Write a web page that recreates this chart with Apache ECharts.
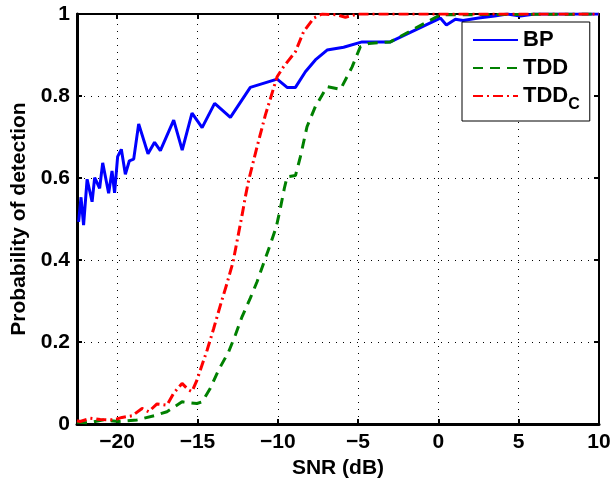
<!DOCTYPE html>
<html>
<head>
<meta charset="utf-8">
<script src="https://cdn.jsdelivr.net/npm/echarts@6/dist/echarts.min.js"></script>
<style>
  html, body { margin: 0; padding: 0; background: #fff; }
  #main { width: 611px; height: 479px; }
</style>
</head>
<body>
<div id="main"></div>
<script>
// data
const seriesNames = ['BP', 'TDD', 'TDD_C'];
const xTicks = [-20, -15, -10, -5, 0, 5, 10];

const bpX = [-22.4, -22.25, -22.09, -21.87, -21.56, -21.4, -21.09, -20.9, -20.53, -20.32, -20.16, -19.97, -19.74, -19.49, -19.24, -18.97, -18.66, -18.08, -17.67, -17.31, -16.48, -15.95, -15.34, -14.71, -13.93, -12.95, -11.71, -10.04, -9.42, -8.9, -8.28, -7.66, -6.93, -5.9, -4.75, -2.99, 0.12, 0.5, 1.06, 1.54, 2.5, 3.5, 4.28, 5.1, 6, 10];
const bpY = [0.493, 0.553, 0.485, 0.597, 0.542, 0.601, 0.575, 0.637, 0.563, 0.617, 0.564, 0.652, 0.670, 0.609, 0.642, 0.646, 0.732, 0.659, 0.687, 0.667, 0.741, 0.668, 0.758, 0.723, 0.782, 0.748, 0.821, 0.841, 0.821, 0.821, 0.859, 0.888, 0.912, 0.919, 0.932, 0.932, 0.99, 0.973, 0.987, 0.984, 0.99, 0.995, 1.0, 0.995, 1.0, 1.0];

const tddX = [-22.5, -21.8, -20.84, -19.9, -18.76, -17.7, -16.9, -15.96, -15.03, -14.71, -14.2, -13.68, -13.06, -12.64, -12.22, -11.71, -11.29, -10.88, -10.5, -10.09, -9.84, -9.59, -9.42, -8.9, -8.59, -8.18, -7.66, -6.93, -6.1, -5.37, -4.86, -4.34, -2.99, 0.12, 10];
const tddY = [0.004, 0.003, 0.01, 0.006, 0.01, 0.02, 0.03, 0.054, 0.05, 0.054, 0.087, 0.132, 0.176, 0.217, 0.262, 0.307, 0.347, 0.392, 0.434, 0.481, 0.526, 0.575, 0.603, 0.606, 0.652, 0.725, 0.774, 0.823, 0.816, 0.871, 0.92, 0.928, 0.932, 0.998, 1.0];

const tddcX = [-22.5, -22.3, -21.67, -21.05, -20.2, -19.7, -19.07, -18.45, -18.04, -17.52, -16.9, -16.48, -15.96, -15.55, -15.34, -15.03, -14.61, -14.4, -13.99, -13.57, -13.16, -12.78, -12.5, -12.22, -12.02, -11.81, -11.29, -10.77, -10.04, -9.63, -8.9, -8.39, -7.76, -7.24, -6.31, -5.79, -5.06, 10];
const tddcY = [0.008, 0.006, 0.014, 0.011, 0.01, 0.016, 0.02, 0.038, 0.03, 0.049, 0.046, 0.075, 0.099, 0.083, 0.079, 0.107, 0.156, 0.18, 0.233, 0.29, 0.343, 0.396, 0.453, 0.51, 0.554, 0.595, 0.676, 0.754, 0.847, 0.872, 0.908, 0.957, 0.99, 1.0, 0.998, 0.992, 1.0, 1.0];

const FONT = 'Liberation Sans';
const zip = (xs, ys) => xs.map((x, i) => [x, ys[i]]);
const gridDots = { color: '#000', width: 1, type: [1, 6] };
const tickFont = { fontFamily: FONT, fontSize: 21, fontWeight: 'bold', color: '#000' };
const nameFont = { fontFamily: FONT, fontSize: 21, fontWeight: 'bold', color: '#000' };

const chart = echarts.init(document.getElementById('main'));
chart.setOption({
  animation: false,
  backgroundColor: '#fff',
  grid: { left: 77, right: 12, top: 14, bottom: 55, containLabel: false, outerBoundsMode: 'none' },
  legend: {
    data: seriesNames,
    orient: 'vertical',
    left: 462,
    top: 22,
    padding: [7, 10, 8, 10],
    itemGap: 6,
    itemWidth: 45,
    itemHeight: 14,
    selectedMode: false,
    borderColor: '#000',
    borderWidth: 1,
    backgroundColor: '#fff',
    itemStyle: { opacity: 0 },
    formatter: name => name === 'TDD_C' ? '{m|TDD}{sub|C}' : '{m|' + name + '}',
    textStyle: {
      fontFamily: FONT,
      color: '#000',
      rich: {
        m: { fontFamily: FONT, fontSize: 22, fontWeight: 'bold', color: '#000', lineHeight: 22, verticalAlign: 'top' },
        sub: { fontFamily: FONT, fontSize: 16, fontWeight: 'bold', color: '#000', lineHeight: 16, padding: [12, 0, 0, 0], verticalAlign: 'top' }
      }
    }
  },
  xAxis: [
    {
      type: 'value',
      position: 'bottom',
      min: -22.5,
      max: 10,
      interval: 2.5,
      name: 'SNR (dB)',
      nameLocation: 'middle',
      nameGap: 29,
      nameTextStyle: nameFont,
      axisLine: { onZero: false, lineStyle: { color: '#000', width: 3 } },
      axisTick: { inside: true, length: 5, customValues: xTicks, lineStyle: { color: '#000', width: 2 } },
      axisLabel: Object.assign({
        customValues: xTicks,
        margin: 8,
        formatter: v => (v % 5 !== 0 ? '' : v < 0 ? '\u2212' + Math.abs(v) : String(v))
      }, tickFont),
      splitLine: { show: false }
    },
    {
      type: 'value',
      position: 'top',
      min: -22.5,
      max: 10,
      interval: 2.5,
      axisLine: { onZero: false, lineStyle: { color: '#000', width: 2 } },
      axisTick: { inside: true, length: 5, customValues: xTicks, lineStyle: { color: '#000', width: 2 } },
      axisLabel: { show: false },
      splitLine: { show: false }
    }
  ],
  yAxis: [
    {
      type: 'value',
      position: 'left',
      min: 0,
      max: 1,
      interval: 0.2,
      name: 'Probability of detection',
      nameLocation: 'middle',
      nameGap: 46,
      nameTextStyle: nameFont,
      axisLine: { onZero: false, lineStyle: { color: '#000', width: 3 } },
      axisTick: { inside: true, length: 5, lineStyle: { color: '#000', width: 2 } },
      axisLabel: Object.assign({ margin: 7 }, tickFont),
      splitLine: { show: true, lineStyle: gridDots }
    },
    {
      type: 'value',
      position: 'right',
      min: 0,
      max: 1,
      interval: 0.2,
      axisLine: { onZero: false, lineStyle: { color: '#000', width: 2 } },
      axisTick: { inside: true, length: 5, lineStyle: { color: '#000', width: 2 } },
      axisLabel: { show: false },
      splitLine: { show: false }
    }
  ],
  series: [
    {
      name: 'BP',
      type: 'line',
      data: zip(bpX, bpY),
      symbol: 'none',
      itemStyle: { color: '#0000ff' },
      lineStyle: { color: '#0000ff', width: 3 },
      markLine: {
        silent: true,
        z: 1,
        symbol: ['none', 'none'],
        label: { show: false },
        lineStyle: gridDots,
        data: xTicks.filter(v => v > -22.5 && v < 10).map(v => ({ xAxis: v }))
      }
    },
    {
      name: 'TDD',
      type: 'line',
      data: zip(tddX, tddY),
      symbol: 'none',
      itemStyle: { color: '#008000' },
      lineStyle: { color: '#008000', width: 3, type: [10, 7] }
    },
    {
      name: 'TDD_C',
      type: 'line',
      data: zip(tddcX, tddcY),
      symbol: 'none',
      itemStyle: { color: '#ff0000' },
      lineStyle: { color: '#ff0000', width: 3, type: [10, 4, 2, 4] }
    }
  ]
});
</script>
</body>
</html>
